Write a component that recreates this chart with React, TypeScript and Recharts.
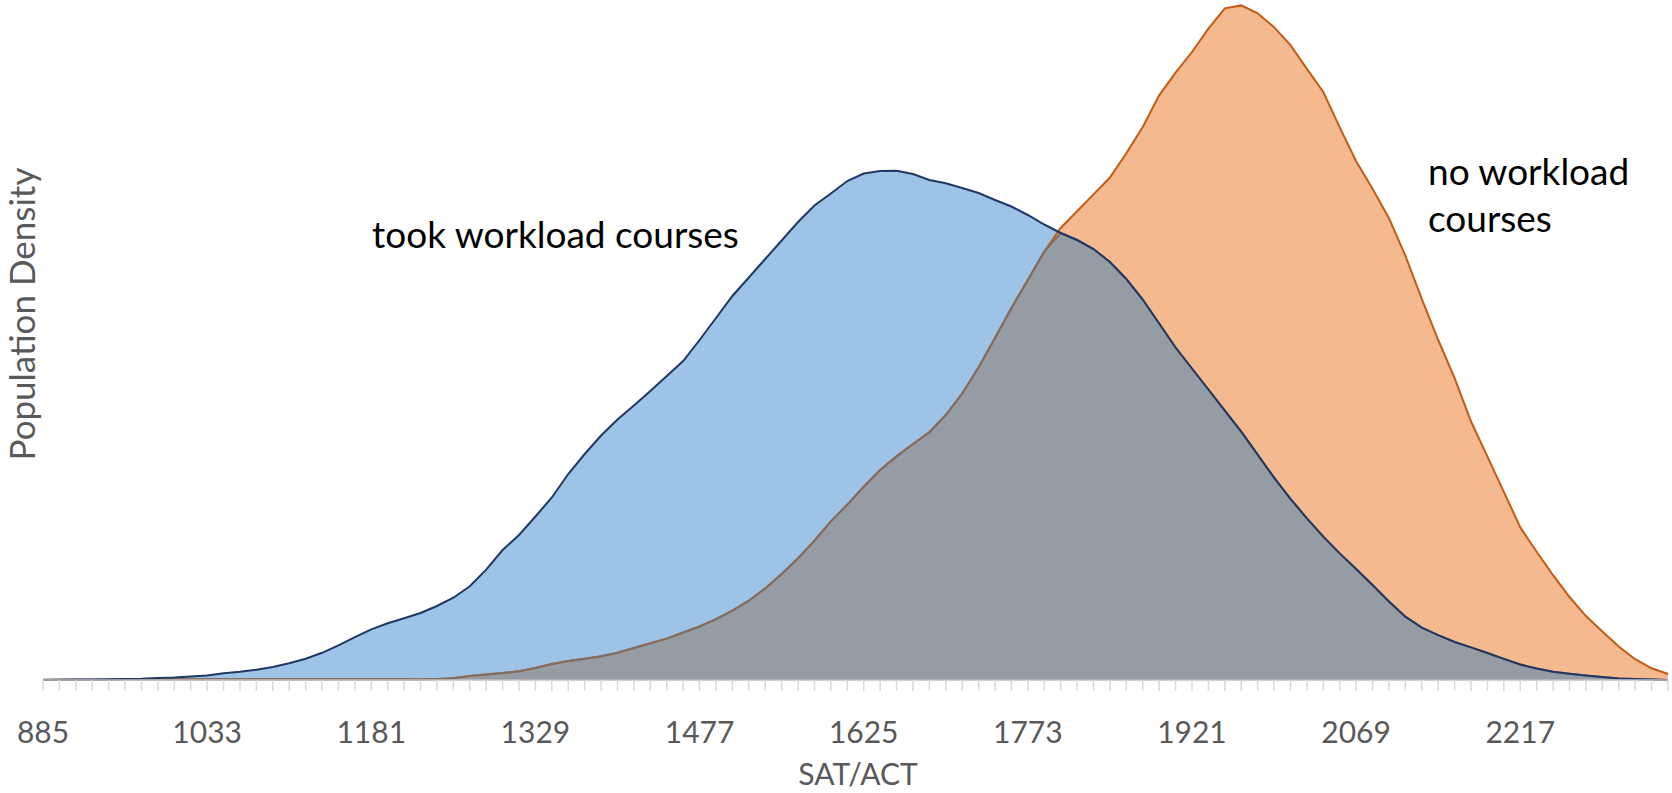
import React from "react";
import { Area, ComposedChart, Line, XAxis, YAxis } from "recharts";

// SAT/ACT score bins (category axis, 14.8 points apart)
const SAT_SCORES = [
  885, 899.8, 914.6, 929.4, 944.2, 959, 973.8, 988.6, 1003.4, 1018.2,
  1033, 1047.8, 1062.6, 1077.4, 1092.2, 1107, 1121.8, 1136.6, 1151.4, 1166.2,
  1181, 1195.8, 1210.6, 1225.4, 1240.2, 1255, 1269.8, 1284.6, 1299.4, 1314.2,
  1329, 1343.8, 1358.6, 1373.4, 1388.2, 1403, 1417.8, 1432.6, 1447.4, 1462.2,
  1477, 1491.8, 1506.6, 1521.4, 1536.2, 1551, 1565.8, 1580.6, 1595.4, 1610.2,
  1625, 1639.8, 1654.6, 1669.4, 1684.2, 1699, 1713.8, 1728.6, 1743.4, 1758.2,
  1773, 1787.8, 1802.6, 1817.4, 1832.2, 1847, 1861.8, 1876.6, 1891.4, 1906.2,
  1921, 1935.8, 1950.6, 1965.4, 1980.2, 1995, 2009.8, 2024.6, 2039.4, 2054.2,
  2069, 2083.8, 2098.6, 2113.4, 2128.2, 2143, 2157.8, 2172.6, 2187.4, 2202.2,
  2217, 2231.8, 2246.6, 2261.4, 2276.2, 2291, 2305.8, 2320.6, 2335.4, 2350.2,
];

const TICK_LABELS = ["885", "1033", "1181", "1329", "1477", "1625", "1773", "1921", "2069", "2217"];

// relative population density (arbitrary units)
const TOOK_WORKLOAD = [
  0, 0.2, 0.4, 0.5, 0.7, 1, 1.3, 2, 2.5, 3.4,
  4.5, 6.7, 8.3, 10.3, 13, 16.7, 21.3, 27.2, 34.6, 42.8,
  50.7, 56.7, 61.8, 67, 74, 82.3, 93.7, 110.4, 130, 145,
  163.5, 182.5, 206, 226, 244.5, 260.5, 274.5, 289, 304, 319,
  340, 362, 384, 402.5, 421, 439.5, 458, 474.5, 486.5, 499,
  506.5, 509, 509.2, 506, 500, 496.8, 492, 487, 480, 473.5,
  465, 455.5, 447, 440, 431, 418, 401, 380.5, 356.5, 332.5,
  311.5, 290.5, 269.3, 248.3, 225.3, 202.3, 181.2, 161.7, 143.4, 126.6,
  111, 95, 78.5, 63.3, 52.3, 44.8, 38, 32.6, 27, 21.1,
  15.5, 11.5, 8.3, 6.3, 4.6, 3, 1.6, 1, 0.5, 0,
];

const NO_WORKLOAD = [
  0.3, 0.3, 0.3, 0.3, 0.3, 0.8, 0.8, 0.8, 0.8, 0.8,
  0.8, 0.8, 0.8, 0.8, 0.8, 0.8, 0.8, 0.8, 0.8, 0.8,
  0.8, 0.8, 0.8, 0.6, 1, 1.8, 3.9, 5.4, 7, 8.8,
  12, 16, 19, 21.2, 23.7, 27.2, 32, 36.7, 41.4, 47.5,
  53.5, 60.8, 69.3, 79.3, 91.6, 106, 121.8, 139.4, 158.6, 175.4,
  193.2, 210.1, 223.6, 236, 247.7, 265, 286.5, 312.7, 342, 372,
  400, 428.5, 452, 468.8, 485.6, 502.5, 526.8, 553, 584.7, 607.3,
  628, 651.4, 671.7, 674.6, 666.7, 652.8, 634.8, 611.1, 588, 552.6,
  518.7, 491.2, 461.8, 424.3, 381.2, 340, 301.8, 258.5, 223.3, 188.2,
  152.6, 128.2, 104.8, 83, 63.9, 48.6, 33.4, 20.8, 11.7, 6,
];

// where the two populations overlap (drawn grey)
const data = SAT_SCORES.map((score, i) => ({
  score,
  took: TOOK_WORKLOAD[i],
  none: NO_WORKLOAD[i],
  overlap: Math.min(TOOK_WORKLOAD[i], NO_WORKLOAD[i]),
}));

const FONT = "Lato, 'Open Sans', sans-serif";

function ScoreTick({ x, y, payload }: any) {
  const label = String(payload.value);
  return (
    <g>
      <line x1={x} x2={x} y1={y - 11} y2={y} stroke="#D9D9D9" strokeWidth={1.5} />
      {TICK_LABELS.includes(label) && (
        <text x={x} y={y + 52} textAnchor="middle" fill="#595959" fontSize={30} fontFamily={FONT}>
          {label}
        </text>
      )}
    </g>
  );
}

export default function App() {
  return (
    <div style={{ position: "absolute", left: 0, top: 0, width: 1672, height: 793, background: "#fff" }}>
      <ComposedChart width={1672} height={793} data={data} margin={{ top: 5, right: 4, bottom: 53, left: 43 }}>
        <XAxis
          dataKey="score"
          interval={0}
          tickLine={false}
          tickSize={11}
          tickMargin={0}
          height={60}
          axisLine={{ stroke: "#BFBFBF", strokeWidth: 1.5 }}
          tick={<ScoreTick />}
        />
        <YAxis hide domain={[0, 675]} />
        <Area type="linear" dataKey="took" fill="#9DC3E6" fillOpacity={1} stroke="none" isAnimationActive={false} />
        <Area type="linear" dataKey="none" fill="#F5B98F" fillOpacity={1} stroke="none" isAnimationActive={false} />
        <Line type="linear" dataKey="none" stroke="#C55A11" strokeWidth={2} dot={false} activeDot={false} isAnimationActive={false} />
        <Area type="linear" dataKey="overlap" fill="#959CA3" fillOpacity={1} stroke="none" isAnimationActive={false} />
        <Line type="linear" dataKey="overlap" stroke="#7D6E66" strokeWidth={2} dot={false} activeDot={false} isAnimationActive={false} />
        <Line type="linear" dataKey="took" stroke="#203864" strokeWidth={2} dot={false} activeDot={false} isAnimationActive={false} />
      </ComposedChart>
      <svg width={1672} height={793} style={{ position: "absolute", left: 0, top: 0, pointerEvents: "none" }}>
        <text x={372} y={248} fontSize={37} fill="#000" fontFamily={FONT}>took workload courses</text>
        <text x={1428} y={185} fontSize={37} fill="#000" fontFamily={FONT}>no workload</text>
        <text x={1428} y={232} fontSize={37} fill="#000" fontFamily={FONT}>courses</text>
        <text x={858} y={785} textAnchor="middle" fontSize={30} fill="#595959" fontFamily={FONT}>SAT/ACT</text>
        <text transform="translate(35,314) rotate(-90)" textAnchor="middle" fontSize={35} fill="#595959" fontFamily={FONT}>
          Population Density
        </text>
      </svg>
    </div>
  );
}
